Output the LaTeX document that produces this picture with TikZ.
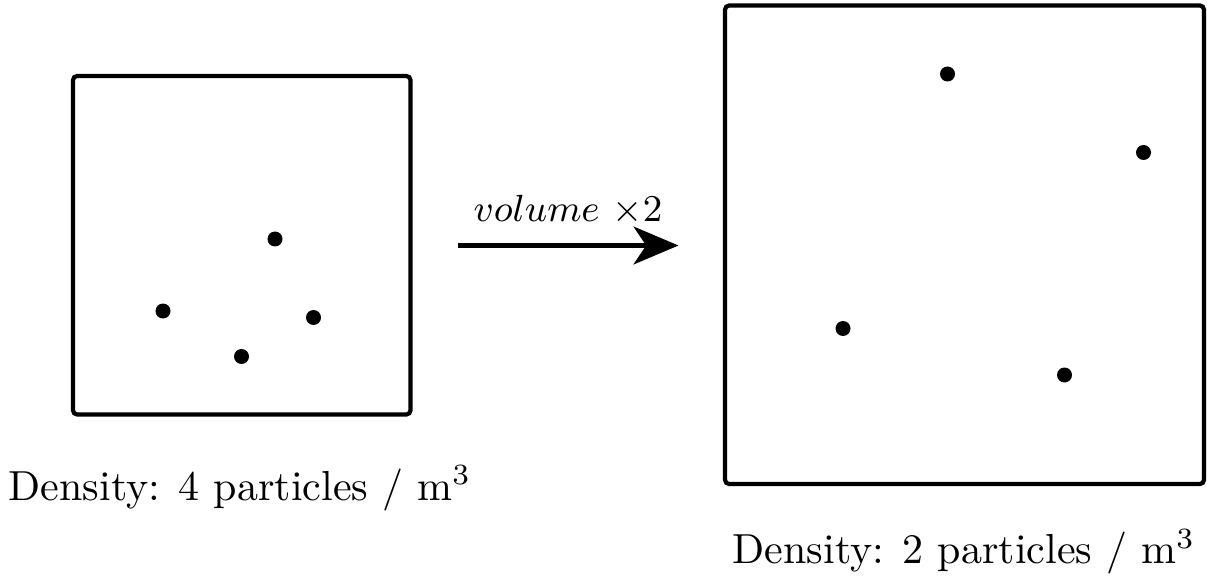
\documentclass[tikz,border=0pt]{standalone}
\usetikzlibrary{arrows.meta}
\begin{document}
\begin{tikzpicture}[x=0.238pt,y=-0.238pt,
  box/.style={draw, line width=1pt, rounded corners=1pt, inner sep=0pt, outer sep=0pt},
  particle/.style={circle, fill, inner sep=0pt, minimum size=3.57pt},
  caption/.style={anchor=base, inner sep=0pt, font=\fontsize{10}{12}\selectfont},
  arrowlabel/.style={anchor=base, inner sep=0pt, font=\fontsize{9}{11}\selectfont}]
\useasboundingbox (0,0) rectangle (1207,579);
% containers
\node[box, minimum width=80.33pt, minimum height=80.57pt] (small) at (241.75,245.25) {};
\node[box, minimum width=114pt, minimum height=113.9pt] (large) at (964.5,244.75) {};
% particles in the small box
\node[particle] (a1) at (275,239) {};
\node[particle] (a2) at (163,311) {};
\node[particle] (a3) at (313.5,317.5) {};
\node[particle] (a4) at (241.5,356.5) {};
% particles in the large box
\node[particle] (b1) at (947.5,74) {};
\node[particle] (b2) at (1143.5,152.5) {};
\node[particle] (b3) at (843,328.5) {};
\node[particle] (b4) at (1064.5,375) {};
% arrow
\coordinate (from) at (457.5,245.5);
\coordinate (to) at (678.5,245.5);
\draw[line width=1.05pt, -{Stealth[length=10.7pt,width=9pt,inset=3pt]}] (from) -- node[arrowlabel, pos=0.5, yshift=5.6pt] (lbl) {$volume$ $\times 2$} (to);
% captions
\node[caption] (capA) at (240,500) {Density: 4 particles / m$^3$};
\node[caption] (capB) at (964,563.3) {Density: 2 particles / m$^3$};
\end{tikzpicture}
\end{document}
